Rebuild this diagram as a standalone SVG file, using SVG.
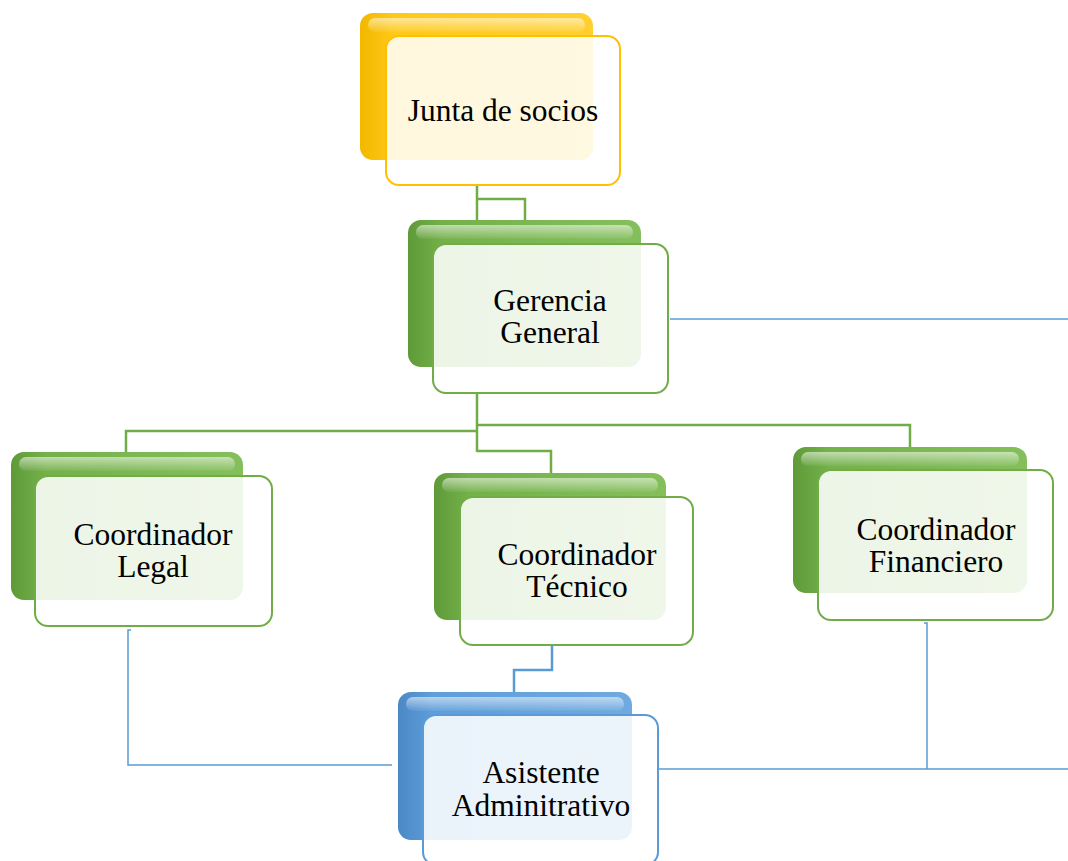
<svg xmlns="http://www.w3.org/2000/svg" width="1068" height="861" viewBox="0 0 1068 861">
<defs>
<linearGradient id="gY" x1="0" y1="0" x2="1" y2="0"><stop offset="0" stop-color="#F2B800"/><stop offset="0.15" stop-color="#FFC91A"/><stop offset="1" stop-color="#FFD030"/></linearGradient>
<linearGradient id="gG" x1="0" y1="0" x2="1" y2="0"><stop offset="0" stop-color="#5E9A38"/><stop offset="0.15" stop-color="#74B14A"/><stop offset="1" stop-color="#84BF5C"/></linearGradient>
<linearGradient id="gB" x1="0" y1="0" x2="1" y2="0"><stop offset="0" stop-color="#4A88C6"/><stop offset="0.15" stop-color="#5E9EDA"/><stop offset="1" stop-color="#6FAAE0"/></linearGradient>
<linearGradient id="hl" x1="0" y1="0" x2="0" y2="1"><stop offset="0" stop-color="#fff" stop-opacity="0.55"/><stop offset="1" stop-color="#fff" stop-opacity="0.05"/></linearGradient>
</defs>
<style>
.cg{fill:none;stroke:#70AD47;stroke-width:2.5}
.cb{fill:none;stroke:#5B9BD5;stroke-width:1.5}
.cbt{fill:none;stroke:#5B9BD5;stroke-width:2.5}
.hl{fill:url(#hl)}
.fy{fill:#FFFFFF;fill-opacity:0.86;stroke:#FFC000;stroke-width:2}
.fg{fill:#FFFFFF;fill-opacity:0.87;stroke:#70AD47;stroke-width:2}
.fb{fill:#FFFFFF;fill-opacity:0.87;stroke:#5B9BD5;stroke-width:2}
text{font-family:"Liberation Serif","Times New Roman",serif;font-size:31.5px;fill:#000;text-anchor:middle}
</style>
<g id="connectors">
<path class="cg" d="M477,185 V220 M477,199 H525 V220"/>
<path class="cg" d="M477,393 V452 M477,431 H126 V452 M477,425 H910 V447 M477,451 H551 V473"/>
<path class="cb" d="M670,319 H1068"/>
<path class="cbt" d="M552,645 V670 H514 V692"/>
<path class="cb" d="M131,630 H128 V765 H392"/>
<path class="cb" d="M658,769 H1068 M924,623 H927 V769"/>
</g>
<g id="node-junta">
<rect x="360" y="13" width="233" height="147" rx="13" fill="url(#gY)"/>
<rect x="368" y="18" width="217" height="14" rx="7" class="hl"/>
<rect x="386" y="36" width="234" height="149" rx="13" class="fy"/>
<text x="503" y="121">Junta de socios</text>
</g>
<g id="node-gerencia">
<rect x="408" y="220" width="233" height="147" rx="13" fill="url(#gG)"/>
<rect x="416" y="225" width="217" height="14" rx="7" class="hl"/>
<rect x="433" y="244" width="235" height="149" rx="13" class="fg"/>
<text x="550" y="311">Gerencia</text>
<text x="550" y="343">General</text>
</g>
<g id="node-legal">
<rect x="11" y="452" width="232" height="148" rx="13" fill="url(#gG)"/>
<rect x="19" y="457" width="216" height="14" rx="7" class="hl"/>
<rect x="35" y="476" width="237" height="150" rx="13" class="fg"/>
<text x="153" y="545">Coordinador</text>
<text x="153" y="577">Legal</text>
</g>
<g id="node-tecnico">
<rect x="434" y="473" width="232" height="147" rx="13" fill="url(#gG)"/>
<rect x="442" y="478" width="216" height="14" rx="7" class="hl"/>
<rect x="460" y="497" width="233" height="148" rx="13" class="fg"/>
<text x="577" y="565">Coordinador</text>
<text x="577" y="597">Técnico</text>
</g>
<g id="node-financiero">
<rect x="793" y="447" width="234" height="146" rx="13" fill="url(#gG)"/>
<rect x="801" y="452" width="218" height="14" rx="7" class="hl"/>
<rect x="818" y="470" width="235" height="150" rx="13" class="fg"/>
<text x="936" y="540">Coordinador</text>
<text x="936" y="572">Financiero</text>
</g>
<g id="node-asistente">
<rect x="398" y="692" width="234" height="148" rx="13" fill="url(#gB)"/>
<rect x="406" y="697" width="218" height="14" rx="7" class="hl"/>
<rect x="423" y="715" width="235" height="150" rx="13" class="fb"/>
<text x="541" y="783">Asistente</text>
<text x="541" y="816">Adminitrativo</text>
</g>
</svg>
